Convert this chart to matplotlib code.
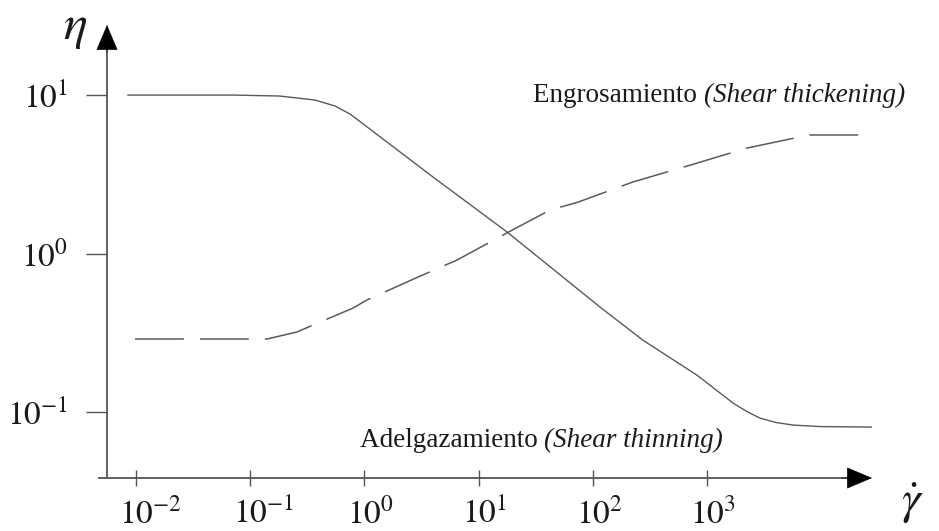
import matplotlib
matplotlib.use("Agg")
import matplotlib.pyplot as plt
import matplotlib.transforms as mtransforms

# Shear thinning curve (solid)
thin_rate = [0.0085, 0.069, 0.182, 0.369, 0.553, 0.749, 3.99, 17.7, 116, 275,
             817, 1175, 1690, 2240, 2910, 4020, 5660, 9750, 28400]
thin_eta = [10, 10, 9.86, 9.30, 8.53, 7.59, 3.04, 1.37, 0.459, 0.284,
            0.171, 0.1396, 0.114, 0.1007, 0.0916, 0.0859, 0.0828, 0.0810, 0.0804]

# Shear thickening curve (dashed)
thick_rate = [0.0098, 0.140, 0.257, 0.355, 0.795, 1.05, 2.95, 6.47, 17.7, 42.2,
              74.2, 225, 710, 2240, 5330, 7980, 30800]
thick_eta = [0.289, 0.289, 0.320, 0.354, 0.453, 0.509, 0.711, 0.910, 1.35, 1.88,
             2.11, 2.83, 3.61, 4.63, 5.28, 5.60, 5.60]

x_ticks = [1e-2, 1e-1, 1e0, 1e1, 1e2, 1e3]
x_labels = [r"$10^{-2}$", r"$10^{-1}$", r"$10^{0}$", r"$10^{1}$", r"$10^{2}$", r"$10^{3}$"]
y_ticks = [1e-1, 1e0, 1e1]
y_labels = [r"$10^{-1}$", r"$10^{0}$", r"$10^{1}$"]

plt.rcParams["font.family"] = ["Liberation Serif", "DejaVu Serif"]
plt.rcParams["mathtext.fontset"] = "stix"

axis_color = "#555555"
line_color = "#5a5a5a"
text_color = "#1a1a1a"

fig = plt.figure(figsize=(9.39, 5.31), dpi=100)
ax = fig.add_axes([107 / 939, 53 / 531, 765 / 939, 453 / 531])
ax.set_xscale("log")
ax.set_yscale("log")
ax.set_xlim(10 ** -2.254, 10 ** 4.445)
ax.set_ylim(10 ** -1.416, 10 ** 1.442)

ax.plot(thin_rate, thin_eta, color=line_color, lw=1.0)
ax.plot(thick_rate, thick_eta, color=line_color, lw=1.1, linestyle=(0, (32, 10.5)))

for s in ax.spines.values():
    s.set_visible(False)

# axis lines (grey) with black arrow heads
ax.plot([-0.0105, 0.975], [0, 0], color=axis_color, lw=1.3,
        transform=ax.transAxes, clip_on=False)
ax.plot([0, 0], [0, 0.96], color=axis_color, lw=1.3,
        transform=ax.transAxes, clip_on=False)
head = dict(arrowstyle="-|>,head_length=0.85,head_width=0.36", color="black",
            lw=0.5, shrinkA=0, shrinkB=0, mutation_scale=20)
ax.annotate("", xy=(1, 0), xytext=(0.96, 0), xycoords="axes fraction",
            textcoords="axes fraction", arrowprops=head, annotation_clip=False)
ax.annotate("", xy=(0, 1), xytext=(0, 0.94), xycoords="axes fraction",
            textcoords="axes fraction", arrowprops=head, annotation_clip=False)

ax.minorticks_off()
ax.set_xticks(x_ticks)
ax.set_xticklabels(x_labels)
ax.set_yticks(y_ticks)
ax.set_yticklabels(y_labels)
ax.tick_params(axis="x", direction="inout", length=12, width=1.0, color=axis_color,
               labelsize=24, labelcolor=text_color, pad=8)
ax.tick_params(axis="y", direction="out", length=15, width=1.0, color=axis_color,
               labelsize=24, labelcolor=text_color, pad=13)

# keep the "10" centred on the tick, superscript hanging right
shift = mtransforms.ScaledTranslation(-17 / 100, 0, fig.dpi_scale_trans)
for lab in ax.get_xticklabels():
    lab.set_horizontalalignment("left")
    lab.set_transform(lab.get_transform() + shift)

# axis symbols
fig.text(75 / 939, 1 - 28 / 531, r"$\eta$", fontsize=36, color=text_color,
         ha="center", va="center")
fig.text(912 / 939, 1 - 503 / 531, r"$\dot{\gamma}$", fontsize=34, color=text_color,
         ha="center", va="center")


def two_part_label(x_px, y_px, plain, slanted, size=19.5):
    t1 = fig.text(x_px / 939, 1 - y_px / 531, plain, fontsize=size,
                  color=text_color, ha="left", va="baseline")
    fig.canvas.draw()
    bb = t1.get_window_extent()
    fig.text(bb.x1 / fig.bbox.width, 1 - y_px / 531, slanted, fontsize=size,
             color=text_color, ha="left", va="baseline", style="italic")


two_part_label(533, 102, "Engrosamiento ", "(Shear thickening)")
two_part_label(360, 447, "Adelgazamiento ", "(Shear thinning)")

fig.savefig("out.png", dpi=100, facecolor="white")
